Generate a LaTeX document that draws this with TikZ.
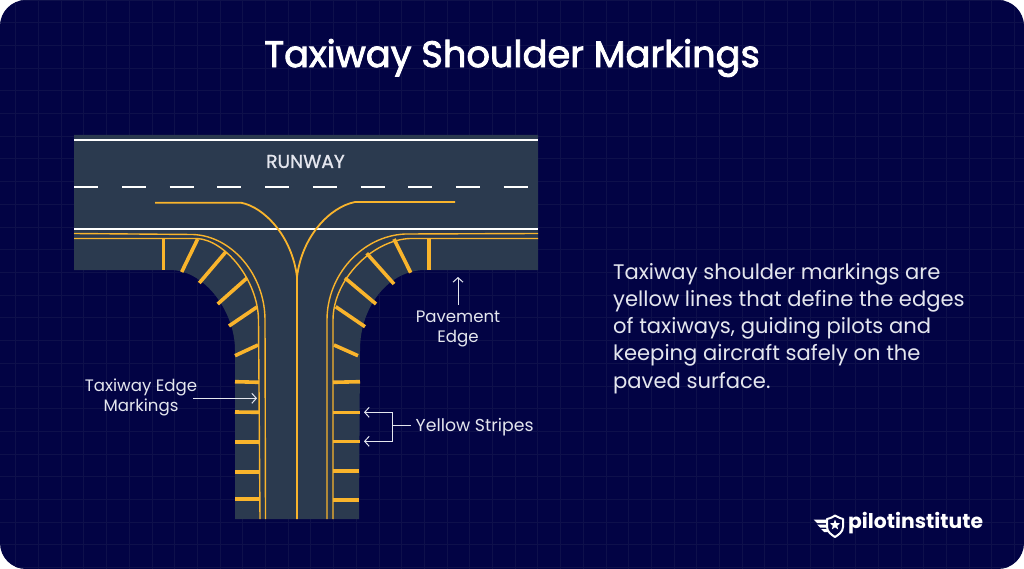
\documentclass[tikz,border=0pt]{standalone}
\usepackage{fontspec}
\setmainfont{Poppins}
\newfontfamily\headfont[FakeBold=2.4]{Poppins}
\newfontfamily\runwayfont[FakeBold=1.2]{Poppins}
\usetikzlibrary{arrows.meta,shapes.geometric}
\definecolor{navy}{HTML}{020344}
\definecolor{gridcol}{HTML}{0E104B}
\definecolor{pavement}{HTML}{2B3A4F}
\definecolor{stripe}{HTML}{F9B42C}
\definecolor{labelcol}{HTML}{E4E6EE}

\begin{document}
\begin{tikzpicture}[%
    x=1pt, y=-1pt,              % Work in the pixels of the reference
    >={Straight Barb[length=4.5pt,width=10pt]},
    ]
% -------------------------------------------------
% A few styles
\tikzset{
  edgeline/.style={draw=stripe, line width=1.4pt},
  yellowbar/.style={draw=stripe, line width=3.6pt},
  whiteline/.style={draw=white, line width=2pt},
  leader/.style={->, draw=labelcol, line width=1pt},
  label/.style={font=\fontsize{16.6}{20}\selectfont, text=labelcol, align=center, inner sep=0pt},
  heading/.style={font=\fontsize{36.8}{42}\headfont, text=white, inner sep=0pt},
  story/.style={font=\fontsize{21.1}{27.2}\selectfont, text=labelcol, align=left, inner sep=0pt, anchor=north west}
}
\useasboundingbox (0,0) rectangle (1024,569);
% -------------------------------------------------
% Background with its faint grid
\fill[white] (0,0) rectangle (1024,569);
\begin{scope}
  \clip[rounded corners=26pt] (0,0) rectangle (1024,569);
  \fill[navy] (0,0) rectangle (1024,569);
  \draw[gridcol, line width=0.8pt, xshift=15.7pt, step=22.7pt] (-16,0) grid (1009,569);
\end{scope}
% -------------------------------------------------
% Pavement
\fill[pavement] (74,135) -- (538,135) -- (538,270) -- (425,270)
  .. controls (390,270) and (360,305) .. (360,350) -- (359,519) -- (235,519) -- (235,350)
  .. controls (235,312) and (205,270) .. (170,270) -- (74,270) -- cycle;
% Runway lines
\draw[whiteline] (74,139.7) -- (538,139.7);
\draw[whiteline] (74,229.3) -- (538,229.3);
\draw[whiteline, dash pattern=on 24pt off 23.7pt] (74.3,187) -- (528,187);
% Centre lines
\draw[edgeline, line width=1.8pt] (155,202.7) -- (241,202.7) .. controls (264,207) and (292,236) .. (297,277) -- (297,519);
\draw[edgeline, line width=1.8pt] (455,202) -- (355,202) .. controls (330,207) and (302,236) .. (297,277);
% Edge lines
\draw[edgeline] (74,233.5) -- (193,234.5) .. controls (232,236) and (265,275) .. (265,320) -- (265.5,519);
\draw[edgeline] (74,238.5) -- (197,238.5) .. controls (225,240) and (258,280) .. (258.5,320) -- (260,519);
\draw[edgeline] (538,233.5) -- (405,234) .. controls (362,236) and (327,275) .. (327,320) -- (327,519);
\draw[edgeline] (538,238.5) -- (410,238.5) .. controls (372,240) and (333,280) .. (333,320) -- (333,519);
% Stripes on the left shoulder
\draw[yellowbar] (163.3,238.5) -- (163.3,270);
\draw[yellowbar] (197.7,239) -- (181.7,272);
\draw[yellowbar] (225.7,252) -- (199.3,283);
\draw[yellowbar] (247,278) -- (217.7,304);
\draw[yellowbar] (257,307) -- (229,326);
\draw[yellowbar] (258,345) -- (235,355.7);
\draw[yellowbar] (235,381.7) -- (259,382.3);
\draw[yellowbar] (235,412) -- (259,412.3);
\draw[yellowbar] (235,441.7) -- (259.5,441.7);
\draw[yellowbar] (235,472) -- (260,472);
\draw[yellowbar] (235,499) -- (260,499);
% Stripes on the right shoulder
\draw[yellowbar] (429,239) -- (429,270);
\draw[yellowbar] (394,239) -- (410.7,272.7);
\draw[yellowbar] (366.7,253.3) -- (394,284);
\draw[yellowbar] (345,278) -- (376,304);
\draw[yellowbar] (335.7,306.7) -- (365,326.7);
\draw[yellowbar] (334,345) -- (358,355.7);
\draw[yellowbar] (333,382.3) -- (360,381.7);
\draw[yellowbar] (333,412.3) -- (360,412.3);
\draw[yellowbar] (333,441.3) -- (360,441.3);
\draw[yellowbar] (333,471) -- (359,471);
\draw[yellowbar] (333,500) -- (359,500);
% -------------------------------------------------
% Texts
\node[heading] (title) at (512,58) {Taxiway Shoulder Markings};
\node[label, font=\fontsize{18.6}{22}\runwayfont] (runway) at (305.5,161.5) {RUNWAY};
\node[label] (pavementedge) at (458,329) {Pavement\\Edge};
\node[label] (edgemarkings) at (141,397) {Taxiway Edge\\Markings};
\node[label, anchor=west, font=\fontsize{17.3}{20}\selectfont] (yellowstripes) at (415.5,427) {Yellow Stripes};
\node[story] (story) at (613,263) {Taxiway shoulder markings are\\yellow lines that define the edges\\of taxiways, guiding pilots and\\keeping aircraft safely on the\\paved surface.};
% -------------------------------------------------
% Leaders
\coordinate (pavementtip) at (458,277);
\coordinate (pavementfoot) at (458,305);
\coordinate (edgetip) at (257,398.3);
\coordinate (edgestart) at (193.3,398.3);
\coordinate (stripetop) at (364,412.3);
\coordinate (stripelow) at (364,441.3);
\coordinate (stripefork) at (392.7,425.7);
\coordinate (stripetick) at (410.7,425.7);
\draw[leader] (pavementfoot) -- (pavementtip);
\draw[leader] (edgestart) -- (edgetip);
\draw[draw=labelcol, line width=1pt] (stripetick) -- (stripefork);
\draw[leader] (stripefork) |- (stripetop);
\draw[leader] (stripefork) |- (stripelow);
% -------------------------------------------------
% Logo
\node[font=\fontsize{20.3}{26}\selectfont\bfseries, text=white, inner sep=0pt, anchor=west] (logotext) at (848,523) {pilotinstitute};
\draw[white, line width=2pt, fill=navy, line join=round] (827,519) .. controls (832,518) and (834,516) .. (835,515.5) .. controls (836,516) and (839,518) .. (843,519) -- (843,527) .. controls (843,532) and (838,535) .. (835,537) .. controls (832,535) and (827,532) .. (827,527) -- cycle;
\node[star, star points=5, star point ratio=2.4, fill=white, inner sep=0pt, minimum size=11pt] (logostar) at (835,525) {};
\fill[white] (813.5,519.5) -- (826,519.5) -- (826,523) -- (817,523) -- cycle;
\fill[white] (817,524.5) -- (826,524.5) -- (826,527.5) -- (820,527.5) -- cycle;
\fill[white] (821,529) -- (826.5,529) -- (828,532) -- (824,532) -- cycle;
% -------------------------------------------------
\end{tikzpicture}
\end{document}
